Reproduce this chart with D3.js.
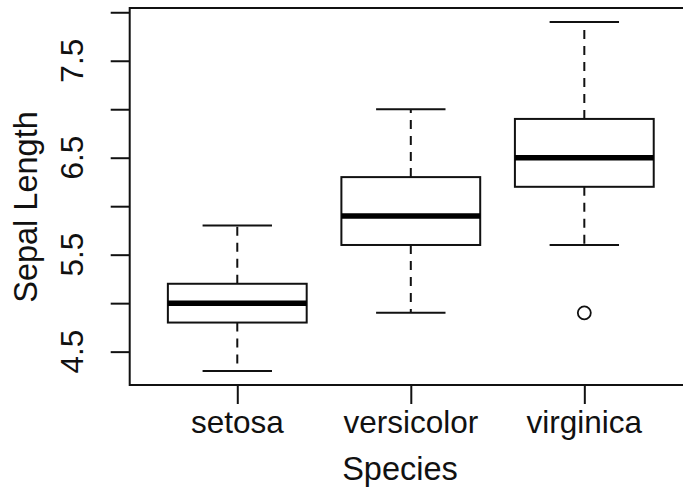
<!DOCTYPE html>
<html>
<head>
<meta charset="utf-8">
<script src="https://cdn.jsdelivr.net/npm/d3@7"></script>
<style>
  html, body { margin: 0; padding: 0; background: #fff; overflow: hidden; }
  svg { display: block; }
  text { font-family: "Liberation Sans", Arial, sans-serif; fill: #111; }
</style>
</head>
<body>
<svg id="chart" width="683" height="496"></svg>
<script>
// ---- data (iris Sepal.Length by Species) ----
const categories = ["setosa", "versicolor", "virginica"];
const whiskerLow = [4.3, 4.9, 5.6];
const lowerHinge = [4.8, 5.6, 6.2];
const medians    = [5.0, 5.9, 6.5];
const upperHinge = [5.2, 6.3, 6.9];
const whiskerHigh = [5.8, 7.0, 7.9];
const outlierSpecies = ["virginica"];
const outlierValues  = [4.9];
const yTickValues = [4.5, 5.0, 5.5, 6.0, 6.5, 7.0, 7.5, 8.0];
const yTickLabels = ["4.5", "", "5.5", "", "6.5", "", "7.5", ""];
const xTitle = "Species";
const yTitle = "Sepal Length";

// ---- layout ----
const svg = d3.select("#chart");
const plotLeft = 129.7, plotRight = 691.9, plotTop = 8, plotBottom = 385;
const fontSize = 31.5;

const xpos = d3.scaleLinear().domain([0.38, 3.62]).range([plotLeft, plotRight]);
const x = d => xpos(categories.indexOf(d) + 1);
const y = d3.scaleLinear().domain([4.156, 8.044]).range([plotBottom, plotTop]);
const unit = xpos(1) - xpos(0);
const boxHalf = 0.4 * unit, capHalf = 0.2 * unit;

const stroke = "#111";

// boxes
const g = svg.append("g");
categories.forEach((c, i) => {
  const cx = x(c);
  // whiskers (dashed)
  g.append("line").attr("x1", cx).attr("x2", cx)
    .attr("y1", y(upperHinge[i])).attr("y2", y(whiskerHigh[i]))
    .attr("stroke", stroke).attr("stroke-width", 2).attr("stroke-dasharray", "9,7");
  g.append("line").attr("x1", cx).attr("x2", cx)
    .attr("y1", y(lowerHinge[i])).attr("y2", y(whiskerLow[i]))
    .attr("stroke", stroke).attr("stroke-width", 2).attr("stroke-dasharray", "9,7");
  // caps
  [whiskerHigh[i], whiskerLow[i]].forEach(v => {
    g.append("line").attr("x1", cx - capHalf).attr("x2", cx + capHalf)
      .attr("y1", y(v)).attr("y2", y(v))
      .attr("stroke", stroke).attr("stroke-width", 2);
  });
  // box
  g.append("rect").attr("x", cx - boxHalf).attr("width", 2 * boxHalf)
    .attr("y", y(upperHinge[i])).attr("height", y(lowerHinge[i]) - y(upperHinge[i]))
    .attr("fill", "none").attr("stroke", stroke).attr("stroke-width", 2);
  // median
  g.append("line").attr("x1", cx - boxHalf).attr("x2", cx + boxHalf)
    .attr("y1", y(medians[i])).attr("y2", y(medians[i]))
    .attr("stroke", "#000").attr("stroke-width", 5.5);
});

// outliers
outlierSpecies.forEach((c, i) => {
  g.append("circle").attr("cx", x(c)).attr("cy", y(outlierValues[i])).attr("r", 6.5)
    .attr("fill", "none").attr("stroke", stroke).attr("stroke-width", 1.8);
});

// frame
svg.append("rect").attr("x", plotLeft).attr("y", plotTop)
  .attr("width", plotRight - plotLeft).attr("height", plotBottom - plotTop)
  .attr("fill", "none").attr("stroke", stroke).attr("stroke-width", 2);

// y axis ticks
const yAxis = d3.axisLeft(y).tickValues(yTickValues).tickSize(19).tickSizeOuter(0).tickFormat("");
const ya = svg.append("g").attr("transform", `translate(${plotLeft},0)`).call(yAxis);
ya.select(".domain").remove();
ya.selectAll(".tick line").attr("stroke", stroke).attr("stroke-width", 2);
yTickValues.forEach((v, i) => {
  if (!yTickLabels[i]) return;
  svg.append("text")
    .attr("transform", `translate(83,${y(v)}) rotate(-90)`)
    .attr("text-anchor", "middle")
    .attr("font-size", fontSize)
    .text(yTickLabels[i]);
});

// x axis ticks
const xAxis = d3.axisBottom(d3.scalePoint().domain(categories).range([x(categories[0]), x(categories[2])]))
  .tickSize(19).tickSizeOuter(0).tickFormat("");
const xa = svg.append("g").attr("transform", `translate(0,${plotBottom})`).call(xAxis);
xa.select(".domain").remove();
xa.selectAll(".tick line").attr("stroke", stroke).attr("stroke-width", 2);
categories.forEach(c => {
  svg.append("text").attr("x", x(c)).attr("y", 433)
    .attr("text-anchor", "middle").attr("font-size", fontSize).text(c);
});

// titles
svg.append("text").attr("x", 400).attr("y", 480)
  .attr("text-anchor", "middle").attr("font-size", 32.5).text(xTitle);
svg.append("text")
  .attr("transform", `translate(37,207) rotate(-90)`)
  .attr("text-anchor", "middle").attr("font-size", 32.5).text(yTitle);
</script>
</body>
</html>
